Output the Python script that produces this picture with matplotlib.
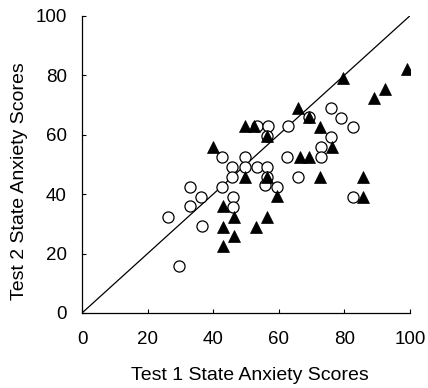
import numpy as np
import matplotlib
matplotlib.use('Agg')
import matplotlib.pyplot as plt

#------
#data: open circles and filled triangles
circle_x = [26.3, 29.7, 32.9, 32.9, 36.3, 36.5, 42.6, 42.6, 45.6, 45.6, 46.1, 46.1,
            49.7, 49.7, 53.3, 53.3, 56.8, 56.3, 56.3, 56.3, 55.8, 59.5, 62.9, 62.5,
            65.7, 69.2, 72.9, 72.9, 75.8, 79.1, 82.7, 75.8, 82.5]
circle_y = [32.4, 15.9, 42.5, 36.0, 39.1, 29.1, 52.5, 42.5, 49.2, 45.8, 39.1, 35.8,
            52.5, 49.2, 49.2, 63.0, 63.0, 59.6, 49.2, 45.8, 43.0, 42.5, 63.0, 52.5,
            45.8, 65.8, 55.9, 52.5, 69.0, 65.7, 62.4, 59.3, 39.1]

tri_x = [39.8, 49.6, 52.5, 56.3, 65.9, 69.2, 72.6, 79.5, 89.1, 92.4, 99.0,
         66.4, 69.3, 76.1, 49.6, 56.3, 72.6, 85.8, 85.8, 59.5,
         43.1, 46.4, 43.1, 46.4, 43.1, 56.3, 53.0]
tri_y = [55.8, 62.8, 62.8, 59.4, 68.8, 65.8, 62.4, 78.9, 72.2, 75.5, 82.2,
         52.5, 52.5, 55.7, 45.6, 45.6, 45.8, 45.8, 39.1, 39.2,
         36.0, 32.4, 29.0, 25.9, 22.5, 32.4, 29.0]

ticks = [0, 20, 40, 60, 80, 100]

#------
#plot
plt.rcParams['font.family'] = ['Liberation Sans', 'DejaVu Sans']
fig = plt.figure(figsize=(4.28, 3.88), dpi=100)
ax = fig.add_axes([0.1916, 0.1933, 0.7664, 0.7662])

ax.plot([0, 100], [0, 100], color='black', lw=0.9, zorder=1)
ax.plot(circle_x, circle_y, 'o', ms=8, mfc='white', mec='black', mew=0.9,
        ls='none', zorder=2)
ax.plot(tri_x, tri_y, '^', ms=8.8, mfc='black', mec='black', mew=0.5,
        ls='none', zorder=3)

ax.set_xlim(0, 100)
ax.set_ylim(0, 100)
ax.set_xticks(ticks)
ax.set_yticks(ticks)
ax.spines['top'].set_visible(False)
ax.spines['right'].set_visible(False)
for s in ['left', 'bottom']:
    ax.spines[s].set_linewidth(0.9)
ax.tick_params(axis='x', direction='in', length=3, width=0.8, pad=13, labelsize=13.5)
ax.tick_params(axis='y', direction='in', length=3, width=0.8, pad=11, labelsize=13.5)

ax.set_xlabel("Test 1 State Anxiety Scores", fontsize=14)
ax.set_ylabel("Test 2 State Anxiety Scores", fontsize=14)
ax.xaxis.set_label_coords(0.512, -0.182)
ax.yaxis.set_label_coords(-0.165, 0.444)

fig.savefig('out.png', dpi=100)
